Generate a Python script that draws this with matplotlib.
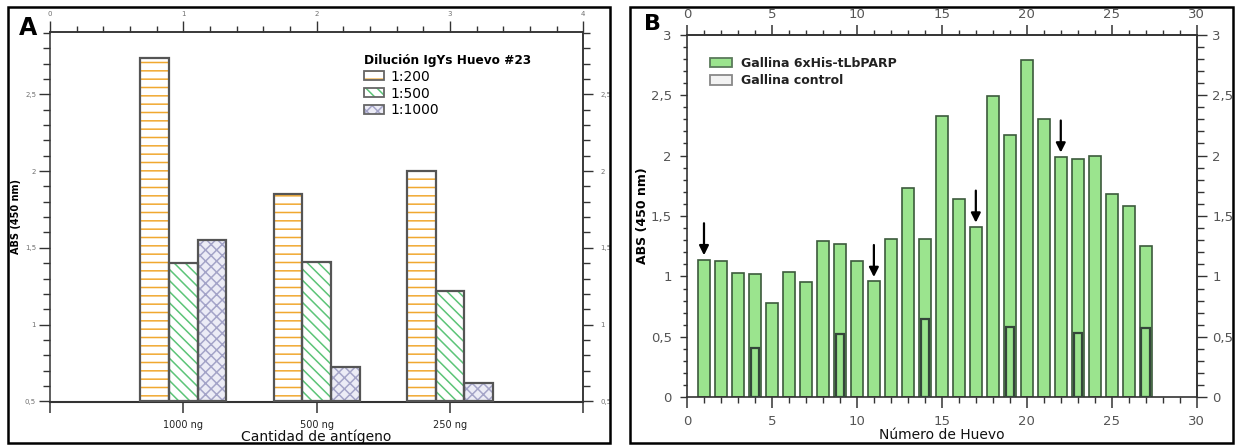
import matplotlib
matplotlib.use("Agg")
import numpy as np
import matplotlib.pyplot as plt
from matplotlib.patches import Rectangle, Patch
from matplotlib.ticker import MultipleLocator, FixedLocator, FuncFormatter
from matplotlib.legend_handler import HandlerTuple

plt.rcParams["font.family"] = ["DejaVu Sans"]
plt.rcParams["hatch.linewidth"] = 1.1

# ---- Panel A: IgY dilutions against antigen amount ----
antigen_labels = ["1000 ng", "500 ng", "250 ng"]
dilution_labels = ["1:200", "1:500", "1:1000"]
abs_1_200 = [2.74, 1.85, 2.00]
abs_1_500 = [1.40, 1.41, 1.22]
abs_1_1000 = [1.55, 0.72, 0.62]

# ---- Panel B: absorbance per egg ----
egg_numbers = list(range(1, 28))
abs_parp = [1.14, 1.13, 1.03, 1.02, 0.78, 1.04, 0.95, 1.29, 1.27, 1.13,
            0.96, 1.31, 1.73, 1.31, 2.33, 1.64, 1.41, 2.49, 2.17, 2.79,
            2.30, 1.99, 1.97, 2.00, 1.68, 1.58, 1.25]
control_eggs = [4, 9, 14, 19, 23, 27]
abs_control = [0.41, 0.52, 0.65, 0.58, 0.53, 0.57]
arrow_eggs = [1, 11, 17, 22]
series_b = ["Gallina 6xHis-tLbPARP", "Gallina control"]

W, H = 1235, 446
fig = plt.figure(figsize=(W / 100, H / 100), dpi=100)


def px_rect(left, top, right, bottom):
    return [left / W, 1 - bottom / H, (right - left) / W, (bottom - top) / H]


def comma(v, pos=None):
    return f"{v:g}".replace(".", ",")


SPINE = "#333333"
GREY = "#707070"

# ================= Panel A =================
axA = fig.add_axes(px_rect(50, 32.3, 583.3, 402))
axA.set_xlim(0, 4)
axA.set_ylim(0.495, 2.905)

w = 0.215
base = 0.5
styles = [
    (abs_1_200, "white", "--", "#f0a830"),
    (abs_1_500, "white", "\\\\\\", "#5cc478"),
    (abs_1_1000, "#ececf6", "xxx", "#a4a4c8"),
]
groups = np.arange(1, len(antigen_labels) + 1)
handlesA = []
for i, (vals, face, hatch, hcol) in enumerate(styles):
    xs = groups + (i - 1) * w
    heights = np.array(vals) - base
    axA.bar(xs, heights, w, bottom=base, color=face, hatch=hatch,
            edgecolor=hcol, linewidth=0, zorder=2)
    axA.bar(xs, heights, w, bottom=base, fill=False,
            edgecolor="#555555", linewidth=1.6, zorder=3)
    handlesA.append((Patch(facecolor=face, hatch=hatch, edgecolor=hcol, linewidth=0),
                     Patch(fill=False, edgecolor="#666666", linewidth=1.3)))

for s in axA.spines.values():
    s.set_color(SPINE)
    s.set_linewidth(1.1)
axA.spines["bottom"].set_linewidth(1.5)

axA.xaxis.set_major_locator(FixedLocator([0, 1, 2, 3, 4]))
axA.set_xticklabels([""] + antigen_labels + [""])
axA.tick_params(axis="x", which="major", direction="out", length=8, width=1.1,
                color=SPINE, labelsize=7, pad=5, labelcolor="#222222")
axA.yaxis.set_major_locator(MultipleLocator(0.5))
axA.yaxis.set_minor_locator(MultipleLocator(0.1))
axA.yaxis.set_major_formatter(FuncFormatter(comma))
axA.tick_params(axis="y", which="major", direction="out", length=8, width=1,
                color=SPINE, labelsize=5, labelcolor=GREY, pad=2)
axA.tick_params(axis="y", which="minor", direction="out", length=5, width=1,
                color=SPINE)

topA = axA.secondary_xaxis("top")
topA.xaxis.set_major_locator(FixedLocator([0, 1, 2, 3, 4]))
topA.xaxis.set_minor_locator(MultipleLocator(0.2))
topA.xaxis.set_major_formatter(FuncFormatter(comma))
topA.tick_params(axis="x", which="major", direction="out", length=7.7, width=1,
                 color=SPINE, labelsize=5, labelcolor=GREY, pad=3)
topA.tick_params(axis="x", which="minor", direction="out", length=4, width=1,
                 color=SPINE)
topA.spines["top"].set_color(SPINE)
topA.spines["top"].set_linewidth(1.1)

rightA = axA.secondary_yaxis("right")
rightA.yaxis.set_major_locator(MultipleLocator(0.5))
rightA.yaxis.set_minor_locator(MultipleLocator(0.1))
rightA.yaxis.set_major_formatter(FuncFormatter(comma))
rightA.tick_params(axis="y", which="major", direction="out", length=7.2, width=1,
                   color=SPINE, labelsize=5, labelcolor=GREY, pad=5)
rightA.tick_params(axis="y", which="minor", direction="out", length=4.8, width=1,
                   color=SPINE)
rightA.spines["right"].set_color(SPINE)
rightA.spines["right"].set_linewidth(1.1)

axA.set_xlabel("Cantidad de antígeno", fontsize=10, color="#111111")
axA.xaxis.set_label_coords(316 / W, 1 - 429 / H, transform=fig.transFigure)
axA.set_ylabel("ABS (450 nm)", fontsize=7, fontweight="bold")
axA.yaxis.set_label_coords(21 / W, 1 - 217 / H, transform=fig.transFigure)

legA = axA.legend(handlesA, dilution_labels, title="Dilución IgYs Huevo #23",
                  handler_map={tuple: HandlerTuple(ndivide=1)},
                  loc="upper left", bbox_to_anchor=(364 / W, 1 - 54 / H),
                  bbox_transform=fig.transFigure, frameon=False, fontsize=10,
                  title_fontproperties={"weight": "bold", "size": 8.7},
                  alignment="left", handlelength=1.45, handleheight=0.6,
                  handletextpad=0.45, labelspacing=0.2, borderpad=0,
                  borderaxespad=0)

# ================= Panel B =================
axB = fig.add_axes(px_rect(687, 34.7, 1196.7, 397.3))
axB.set_xlim(0, 30)
axB.set_ylim(0, 3)

green_face = "#9be48e"
green_edge = "#3c5a3c"
axB.bar(egg_numbers, abs_parp, 0.7, color=green_face, edgecolor=green_edge,
        linewidth=1.2, zorder=2, label=series_b[0])
axB.bar(control_eggs, abs_control, 0.5, facecolor="none", edgecolor="#34463a",
        linewidth=1.6, zorder=3)

for egg in arrow_eggs:
    top = abs_parp[egg - 1]
    axB.annotate("", xy=(egg, top + 0.035), xytext=(egg, top + 0.30),
                 arrowprops=dict(arrowstyle="-|>", color="black", lw=1.6,
                                 mutation_scale=14, shrinkA=0, shrinkB=0),
                 zorder=4)

for s in axB.spines.values():
    s.set_color(SPINE)
    s.set_linewidth(1.2)

axB.xaxis.set_major_locator(MultipleLocator(5))
axB.xaxis.set_minor_locator(MultipleLocator(1))
axB.tick_params(axis="x", which="major", direction="out", length=7.7, width=1.1,
                color=SPINE, labelsize=9.5, labelcolor="#555555", pad=5)
axB.tick_params(axis="x", which="minor", direction="out", length=4, width=1,
                color=SPINE)
axB.yaxis.set_major_locator(MultipleLocator(0.5))
axB.yaxis.set_minor_locator(MultipleLocator(0.1))
axB.yaxis.set_major_formatter(FuncFormatter(comma))
axB.tick_params(axis="y", which="major", direction="out", length=5, width=1,
                color=SPINE, labelsize=9.5, labelcolor="#555555", pad=6)
axB.tick_params(axis="y", which="minor", direction="out", length=3.2, width=1,
                color=SPINE)

topB = axB.secondary_xaxis("top")
topB.xaxis.set_major_locator(MultipleLocator(5))
topB.xaxis.set_minor_locator(MultipleLocator(1))
topB.tick_params(axis="x", which="major", direction="out", length=7, width=1.1,
                 color=SPINE, labelsize=9.5, labelcolor="#555555", pad=3)
topB.tick_params(axis="x", which="minor", direction="out", length=3.8, width=1,
                 color=SPINE)
topB.spines["top"].set_color(SPINE)
topB.spines["top"].set_linewidth(1.2)

rightB = axB.secondary_yaxis("right")
rightB.yaxis.set_major_locator(MultipleLocator(0.5))
rightB.yaxis.set_minor_locator(MultipleLocator(0.1))
rightB.yaxis.set_major_formatter(FuncFormatter(comma))
rightB.tick_params(axis="y", which="major", direction="out", length=7.2, width=1,
                   color=SPINE, labelsize=9.5, labelcolor="#555555", pad=4)
rightB.tick_params(axis="y", which="minor", direction="out", length=5, width=1,
                   color=SPINE)
rightB.spines["right"].set_color(SPINE)
rightB.spines["right"].set_linewidth(1.2)

axB.set_xlabel("Número de Huevo", fontsize=10, color="#111111")
axB.xaxis.set_label_coords(942 / W, 1 - 428 / H, transform=fig.transFigure)
axB.set_ylabel("ABS (450 nm)", fontsize=9, fontweight="bold")
axB.yaxis.set_label_coords(649 / W, 1 - 216 / H, transform=fig.transFigure)

handlesB = [Patch(facecolor=green_face, edgecolor="#5a7a5a", linewidth=1.3),
            Patch(facecolor="#f2f2f2", edgecolor="#888888", linewidth=1.3)]
axB.legend(handlesB, series_b, loc="upper left",
           bbox_to_anchor=(710 / W, 1 - 57 / H), bbox_transform=fig.transFigure,
           frameon=False, prop={"size": 9, "weight": "bold"},
           handlelength=1.75, handleheight=0.75, handletextpad=0.7,
           labelspacing=0.35, borderpad=0, borderaxespad=0, labelcolor="#222222")

# ---- panel letters and frames ----
fig.text(28 / W, 1 - 28 / H, "A", fontsize=17, fontweight="bold",
         ha="center", va="center")
fig.text(652 / W, 1 - 24 / H, "B", fontsize=16, fontweight="bold",
         ha="center", va="center")
for (l, t, r, b) in [(8, 7, 610, 443), (630, 7, 1233, 443)]:
    fig.add_artist(Rectangle((l / W, 1 - b / H), (r - l) / W, (b - t) / H,
                             transform=fig.transFigure, fill=False,
                             edgecolor="black", linewidth=1.8, zorder=10))

fig.savefig("out.png", dpi=100)
